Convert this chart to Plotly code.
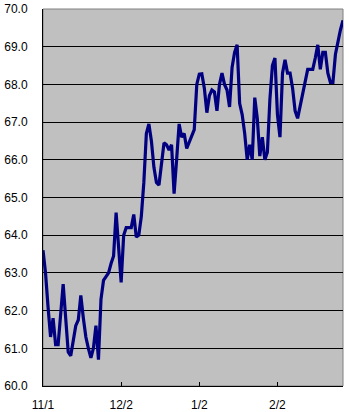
import datetime as dt
import plotly.graph_objects as go

start = dt.date(2006, 11, 1)
values = [
    63.6, 63.0, 62.1, 61.3, 61.8, 61.1, 61.1, 61.8, 62.7, 61.8,
    60.9, 60.8, 61.2, 61.6, 61.75, 62.4, 61.8, 61.3, 61.0, 60.75,
    61.0, 61.6, 60.7, 62.3, 62.8, 62.9, 63.0, 63.25, 63.45, 64.6,
    63.8, 62.75, 64.0, 64.2, 64.2, 64.2, 64.55, 63.95, 64.0, 64.5,
    65.4, 66.7, 66.95, 66.5, 65.8, 65.4, 65.33, 65.85, 66.45, 66.4,
    66.26, 66.4, 65.1, 66.0, 66.95, 66.6, 66.7, 66.3, 66.45, 66.65,
    66.8, 68.0, 68.27, 68.28, 67.9, 67.25, 67.7, 67.85, 67.8, 67.3,
    68.0, 68.3, 68.0, 67.85, 67.4, 68.45, 68.85, 69.05, 67.5, 67.2,
    66.7, 66.0, 66.4, 66.0, 67.65, 67.1, 66.1, 66.6, 66.0, 66.2,
    67.6, 68.5, 68.7, 67.2, 66.6, 68.3, 68.65, 68.3, 68.3, 67.9,
    67.3, 67.1, 67.45, 67.8, 68.15, 68.4, 68.4, 68.4, 68.7, 69.05,
    68.4, 68.85, 68.85, 68.3, 68.05, 68.05, 68.8, 69.15, 69.45, 69.7,
]
dates = [start + dt.timedelta(days=i) for i in range(len(values))]

tick_dates = ["2006-11-01", "2006-12-02", "2007-01-02", "2007-02-02"]
tick_labels = ["11/1", "12/2", "1/2", "2/2"]
y_ticks = [60, 61, 62, 63, 64, 65, 66, 67, 68, 69, 70]

fig = go.Figure()
fig.add_trace(go.Scatter(
    x=dates, y=values, mode="lines",
    line=dict(color="#000080", width=3.2),
    hoverinfo="skip",
))

font = dict(family="Liberation Sans, Arial, sans-serif", size=12, color="black")

fig.update_layout(
    width=349, height=412,
    margin=dict(l=43, r=6, t=9, b=26),
    paper_bgcolor="white",
    plot_bgcolor="#C0C0C0",
    showlegend=False,
    font=font,
    shapes=[dict(type="rect", xref="paper", yref="paper", x0=0, y0=0, x1=1, y1=1,
                 line=dict(color="#808080", width=1), layer="below")],
)
fig.update_xaxes(
    type="date",
    range=["2006-11-01", "2007-02-28"],
    tickvals=tick_dates, ticktext=tick_labels,
    showgrid=False, zeroline=False,
    showline=True, linecolor="black", linewidth=1,
    ticks="inside", ticklen=4, tickcolor="black", tickwidth=1,
    ticklabelstandoff=8,
    tickfont=font,
    automargin=False,
)
fig.update_yaxes(
    range=[60, 70],
    tickvals=y_ticks, ticktext=[f"{v:.1f}" for v in y_ticks],
    showgrid=True, gridcolor="black", gridwidth=1,
    zeroline=False,
    showline=True, linecolor="black", linewidth=1,
    ticks="", ticklabelstandoff=12,
    tickfont=font,
    automargin=False,
)

fig.write_html("out.html")
